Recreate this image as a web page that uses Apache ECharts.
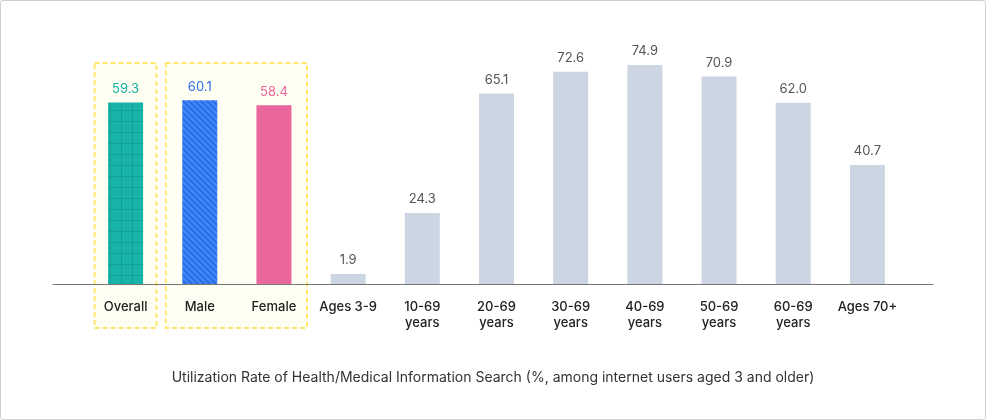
<!DOCTYPE html>
<html><head><meta charset="utf-8">
<script src="https://cdn.jsdelivr.net/npm/echarts@6/dist/echarts.min.js"></script>
<style>
html,body{margin:0;padding:0;background:#fff;}
#c{position:absolute;left:0;top:0;width:986px;height:420px;}
#b{position:absolute;left:0;top:0;width:986px;height:420px;box-sizing:border-box;border:1px solid #cfcfcf;border-radius:3px;pointer-events:none;}
</style></head>
<body><div id="c"></div><div id="b"></div>
<script>
var categories = ['Overall','Male','Female','Ages 3-9','10-69\nyears','20-69\nyears','30-69\nyears','40-69\nyears','50-69\nyears','60-69\nyears','Ages 70+'];
var groupValues = [59.3, 60.1, 58.4];
var ageValues = [1.9, 24.3, 65.1, 72.6, 74.9, 70.9, 62.0, 40.7];
var chartTitle = 'Utilization Rate of Health/Medical Information Search (%, among internet users aged 3 and older)';

function pat(w,h,bg,draw){var c=document.createElement('canvas');c.width=w;c.height=h;var x=c.getContext('2d');x.fillStyle=bg;x.fillRect(0,0,w,h);draw(x);return c;}
var teal = pat(11,11,'#18B4A9',function(x){x.fillStyle='#12A097';x.fillRect(0,0,1,11);x.fillRect(0,0,11,1);});
var blue = pat(6,6,'#2C6EEA',function(x){x.fillStyle='#3F87F2';for(var yy=0;yy<6;yy++){for(var xx=0;xx<6;xx++){if(((xx-yy)%6+6)%6<3){x.fillRect(xx,yy,1,1);}}}});
var pink = pat(8,8,'#EA679D',function(x){x.fillStyle='#F08CB6';x.fillRect(3,3,1,1);});
var groupFills = [teal, blue, pink];
var groupLabelColors = ['#16AFA4','#2D6FEB','#EA679D'];

var sGroup = categories.map(function(c,i){
  if(i<groupValues.length){return {value:groupValues[i], itemStyle:{color:{image:groupFills[i],repeat:'repeat'}}, label:{color:groupLabelColors[i]}};}
  return '-';
});
var sAge = categories.map(function(c,i){
  var k=i-groupValues.length; return k>=0?ageValues[k]:'-';
});

var W = 986, GL = 88.5, GR = 81.5;
var band = (W-GL-GR)/categories.length;
function cx(i){return GL + band*(i+0.5);}
var boxTop = 63, boxBot = 328;
function box(x1,x2){return {type:'rect', z:-10, silent:true, shape:{x:x1, y:boxTop, width:x2-x1, height:boxBot-boxTop},
  style:{fill:'#FFFEF2', stroke:'#FFE76B', lineWidth:2, lineDash:[5,3]}};}

var chart = echarts.init(document.getElementById('c'), null, {renderer:'canvas'});
var FONT = 'Inter, "Noto Sans", sans-serif';
var option = {
  animation:false,
  textStyle:{fontFamily:FONT},
  title:{text:chartTitle, left:'center', top:366, textStyle:{fontSize:14, fontWeight:'normal', color:'#333', fontFamily:FONT}},
  graphic:[ box(cx(0)-31, cx(0)+31), box(cx(1)-34, cx(2)+33) ],
  grid:[
    {left:GL, right:GR, top:50, bottom:136},
    {left:53, right:53, top:50, bottom:136}
  ],
  xAxis:[
    {type:'category', gridIndex:0, data:categories, axisLine:{show:false}, axisTick:{show:false},
     axisLabel:{interval:0, margin:15, fontSize:13, lineHeight:16, color:'#222', fontWeight:500, fontFamily:FONT}},
    {type:'value', gridIndex:1, min:0, max:1, axisLine:{show:true, onZero:false, lineStyle:{color:'#777', width:1}},
     axisTick:{show:false}, axisLabel:{show:false}, splitLine:{show:false}}
  ],
  yAxis:[
    {type:'value', gridIndex:0, min:0, max:80, show:false, splitLine:{show:false}},
    {type:'value', gridIndex:0, min:0, max:76.5, show:false, splitLine:{show:false}},
    {type:'value', gridIndex:1, min:0, max:1, show:false, splitLine:{show:false}}
  ],
  series:[
    {type:'bar', xAxisIndex:0, yAxisIndex:1, data:sGroup, barWidth:35, barGap:'-100%', z:3,
     label:{show:true, position:'top', distance:7, fontSize:13, fontFamily:FONT, formatter:function(p){return p.value.toFixed(1);}}},
    {type:'bar', xAxisIndex:0, yAxisIndex:0, data:sAge, barWidth:35, barGap:'-100%', barMinHeight:10, z:3,
     itemStyle:{color:'#CCD6E2'},
     label:{show:true, position:'top', distance:7, fontSize:13, color:'#555', fontFamily:FONT, formatter:function(p){return p.value.toFixed(1);}}}
  ]
};
chart.setOption(option);
</script></body></html>
